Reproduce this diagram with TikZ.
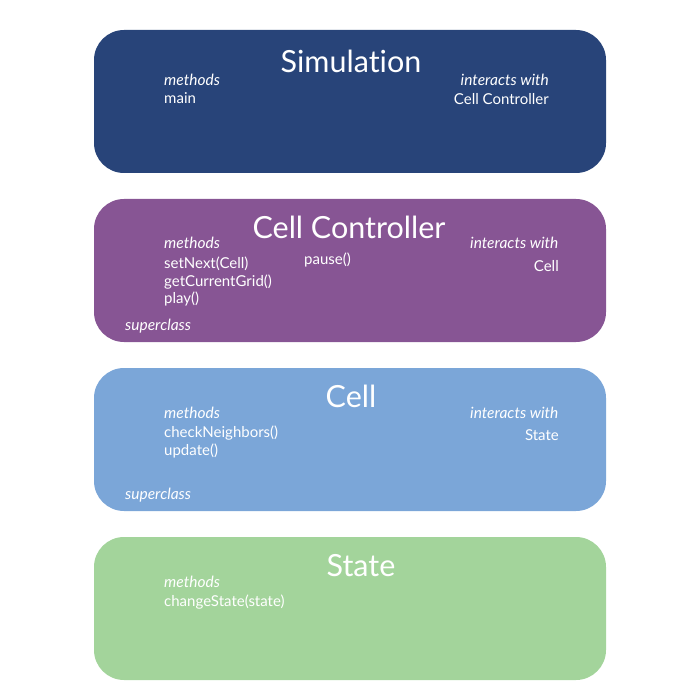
\documentclass[tikz,border=0pt]{standalone}
\usepackage{fontspec}
\setmainfont{Lato}[Ligatures=NoCommon]
\definecolor{simc}{HTML}{284479}
\definecolor{ctrlc}{HTML}{875594}
\definecolor{cellc}{HTML}{7BA6D8}
\definecolor{statec}{HTML}{A3D49B}
\tikzset{
  box/.style={rounded corners=30pt, minimum width=512pt, minimum height=143pt, inner sep=0pt, draw=none},
  ttl/.style={text=white, font=\fontsize{30.5}{34}\selectfont, inner sep=0pt, anchor=base},
  lbl/.style={text=white, font=\fontsize{15}{17}\selectfont, inner sep=0pt, anchor=base west},
  ilbl/.style={lbl, font=\fontsize{15.5}{17}\selectfont\itshape},
}
\begin{document}
\begin{tikzpicture}[x=1pt,y=-1pt]
\useasboundingbox (0,0) rectangle (700,700);
% boxes
\node[box, fill=simc] (sim) at (350,101.5) {};
\node[box, fill=ctrlc] (ctrl) at (350,270.5) {};
\node[box, fill=cellc] (cell) at (350,439.5) {};
\node[box, fill=statec] (state) at (350,608.5) {};
% Simulation
\node[ttl] (simt) at (351,73) {Simulation};
\node[ilbl] (simm) at (164,86) {methods};
\node[lbl] (simm1) at (164,103.5) {main};
\node[ilbl, anchor=base east] (simi) at (549,86) {interacts with};
\node[lbl, anchor=base east] (simi1) at (549,105) {Cell Controller};
% Cell Controller
\node[ttl] (ctrlt) at (349,238.5) {Cell Controller};
\node[ilbl] (ctrlm) at (164,249) {methods};
\node[lbl] (ctrlm1) at (164,268) {setNext(Cell)};
\node[lbl] (ctrlm2) at (164,286) {getCurrentGrid()};
\node[lbl] (ctrlm3) at (164,303.5) {play()};
\node[lbl] (ctrlm4) at (304,265) {pause()};
\node[ilbl] (ctrli) at (470,249) {interacts with};
\node[lbl, anchor=base east] (ctrli1) at (559,271) {Cell};
\node[ilbl] (ctrls) at (125,330) {superclass};
% Cell
\node[ttl] (cellt) at (351,407.5) {Cell};
\node[ilbl] (cellm) at (164,418) {methods};
\node[lbl] (cellm1) at (164,437) {checkNeighbors()};
\node[lbl] (cellm2) at (164,455) {update()};
\node[ilbl] (celli) at (470,418) {interacts with};
\node[lbl, anchor=base east] (celli1) at (559,440) {State};
\node[ilbl] (cells) at (125,499) {superclass};
% State
\node[ttl] (statet) at (361,576.5) {State};
\node[ilbl] (statem) at (164,587) {methods};
\node[lbl] (statem1) at (164,606) {changeState(state)};
\end{tikzpicture}
\end{document}
